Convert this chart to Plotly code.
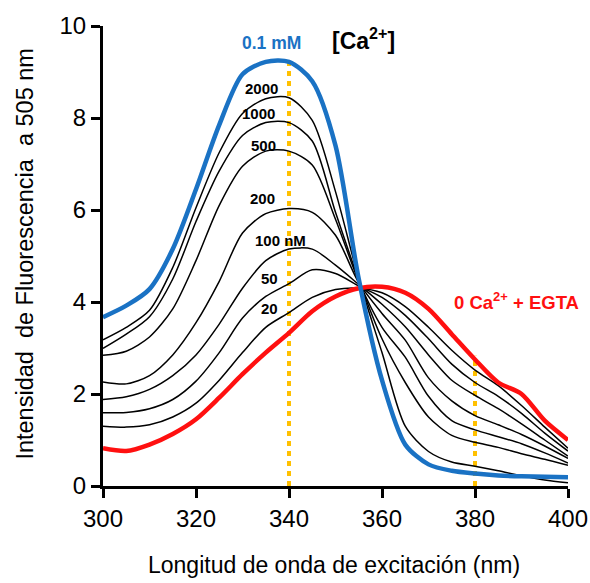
import numpy as np
import plotly.graph_objects as go

# Excitation wavelength grid (nm)
WAVELENGTH = [300, 305, 310, 315, 320, 325, 330, 335, 340, 345, 350,
              355, 360, 365, 370, 375, 380, 385, 390, 395, 400]

# Fluorescence at 505 nm for each free [Ca2+]
F_EGTA = [0.82, 0.76, 0.90, 1.13, 1.45, 1.92, 2.43, 2.90, 3.33, 3.80, 4.12,
          4.30, 4.33, 4.20, 3.85, 3.30, 2.75, 2.25, 2.00, 1.42, 1.00]
F_20 = [1.30, 1.28, 1.33, 1.50, 1.80, 2.30, 2.90, 3.45, 3.77, 4.10, 4.27,
        4.30, 4.20, 3.90, 3.45, 2.95, 2.52, 2.18, 1.75, 1.28, 0.82]
F_50 = [1.59, 1.60, 1.68, 1.88, 2.28, 2.90, 3.65, 4.12, 4.40, 4.70, 4.62,
        4.35, 4.10, 3.71, 3.20, 2.65, 2.25, 1.95, 1.58, 1.15, 0.76]
F_100 = [1.88, 1.94, 2.10, 2.40, 2.85, 3.52, 4.30, 4.90, 5.15, 5.15, 4.80,
         4.38, 3.95, 3.46, 2.85, 2.30, 1.97, 1.68, 1.35, 1.00, 0.65]
F_200 = [2.26, 2.22, 2.40, 2.85, 3.55, 4.45, 5.50, 5.92, 6.03, 5.95, 5.45,
         4.42, 3.75, 3.17, 2.35, 1.85, 1.53, 1.33, 1.12, 0.87, 0.60]
F_500 = [2.84, 2.93, 3.24, 3.85, 4.90, 6.10, 6.95, 7.28, 7.28, 6.98, 5.80,
         4.45, 3.45, 2.80, 1.95, 1.42, 1.22, 1.07, 0.92, 0.72, 0.50]
F_1000 = [2.99, 3.30, 3.68, 4.50, 5.75, 6.85, 7.62, 7.90, 7.90, 7.50, 5.95,
          4.48, 3.20, 2.25, 1.50, 1.10, 0.95, 0.84, 0.70, 0.58, 0.45]
F_2000 = [3.18, 3.45, 3.82, 4.75, 6.05, 7.25, 8.10, 8.42, 8.44, 7.95, 6.40,
          4.50, 2.90, 1.30, 0.75, 0.52, 0.43, 0.33, 0.22, 0.13, 0.07]
F_SAT = [3.67, 3.92, 4.28, 5.15, 6.45, 7.85, 8.95, 9.22, 9.22, 8.80, 7.40,
         4.50, 2.30, 0.90, 0.47, 0.33, 0.27, 0.23, 0.21, 0.20, 0.19]

NM_CURVES = [F_20, F_50, F_100, F_200, F_500, F_1000, F_2000]
NM_LABELS = ["20", "50", "100 nM", "200", "500", "1000", "2000"]

# Wavelengths used for ratiometric imaging
EXC_340 = 340
EXC_380 = 380

X_TICKS = [300, 320, 340, 360, 380, 400]
Y_TICKS = [0, 2, 4, 6, 8, 10]

FONT = "Liberation Sans, Arial, sans-serif"
BLUE = "#1a72c4"
RED = "#ff1010"
GOLD = "#ffc000"

fig = go.Figure()

# Guide lines at 340 and 380 nm, up to the saturating / Ca-free spectra
top340 = float(np.interp(EXC_340, WAVELENGTH, F_SAT)) + 0.08
top380 = float(np.interp(EXC_380, WAVELENGTH, F_EGTA)) + 0.08
for xv, top in [(EXC_340, top340), (EXC_380, top380)]:
    fig.add_trace(go.Scatter(
        x=[xv, xv], y=[0, top], mode="lines",
        line=dict(color=GOLD, width=4, dash="5px,5px"),
        hoverinfo="skip", showlegend=False))

for ys in NM_CURVES:
    fig.add_trace(go.Scatter(
        x=WAVELENGTH, y=ys, mode="lines",
        line=dict(color="black", width=1.5, shape="spline", smoothing=0.8),
        showlegend=False))

fig.add_trace(go.Scatter(
    x=WAVELENGTH, y=F_EGTA, mode="lines",
    line=dict(color=RED, width=4.5, shape="spline", smoothing=0.8),
    showlegend=False))
fig.add_trace(go.Scatter(
    x=WAVELENGTH, y=F_SAT, mode="lines",
    line=dict(color=BLUE, width=4.5, shape="spline", smoothing=0.8),
    showlegend=False))

# Concentration labels next to the peaks
label_pos = {
    "2000": (334.0, 8.64), "1000": (333.5, 8.10), "500": (334.6, 7.41),
    "200": (334.4, 6.25), "100 nM": (338.1, 5.34), "50": (335.7, 4.51),
    "20": (335.7, 3.86),
}
annotations = []
for lab in NM_LABELS:
    lx, ly = label_pos[lab]
    annotations.append(dict(
        x=lx, y=ly, xref="x", yref="y", text=f"<b>{lab}</b>", showarrow=False,
        xanchor="center", yanchor="middle",
        font=dict(family=FONT, size=15, color="black")))

annotations += [
    dict(x=336.3, y=9.64, xref="x", yref="y", text="<b>0.1 mM</b>",
         showarrow=False, xanchor="center", yanchor="middle",
         font=dict(family=FONT, size=17.5, color=BLUE)),
    dict(x=356.1, y=9.71, xref="x", yref="y", text="<b>[Ca<sup>2+</sup>]</b>",
         showarrow=False, xanchor="center", yanchor="middle",
         font=dict(family=FONT, size=23, color="black")),
    dict(x=389.0, y=4.03, xref="x", yref="y",
         text="<b>0 Ca<sup>2+</sup> + EGTA</b>",
         showarrow=False, xanchor="center", yanchor="middle",
         font=dict(family=FONT, size=18.5, color=RED)),
    dict(x=-0.168, y=0.505, xref="paper", yref="paper",
         text="Intensidad  de Fluorescencia  a 505 nm", textangle=-90,
         showarrow=False, xanchor="center", yanchor="middle",
         font=dict(family=FONT, size=23.5, color="black")),
    dict(x=0.497, y=-0.172, xref="paper", yref="paper",
         text="Longitud de onda de excitación (nm)",
         showarrow=False, xanchor="center", yanchor="middle",
         font=dict(family=FONT, size=23, color="black")),
]

axis_common = dict(
    showline=True, linewidth=3, linecolor="black", mirror=False,
    ticks="outside", ticklen=9, tickwidth=3, tickcolor="black",
    showgrid=False, zeroline=False, automargin=False,
    tickfont=dict(family=FONT, size=24, color="black"),
)

fig.update_layout(
    width=590, height=583,
    margin=dict(l=103, r=22, t=26, b=97),
    paper_bgcolor="white", plot_bgcolor="white",
    showlegend=False,
    annotations=annotations,
    xaxis=dict(range=[300, 400], tickvals=X_TICKS, **axis_common),
    yaxis=dict(range=[0, 10], tickvals=Y_TICKS, **axis_common),
)

fig.write_html("out.html")
